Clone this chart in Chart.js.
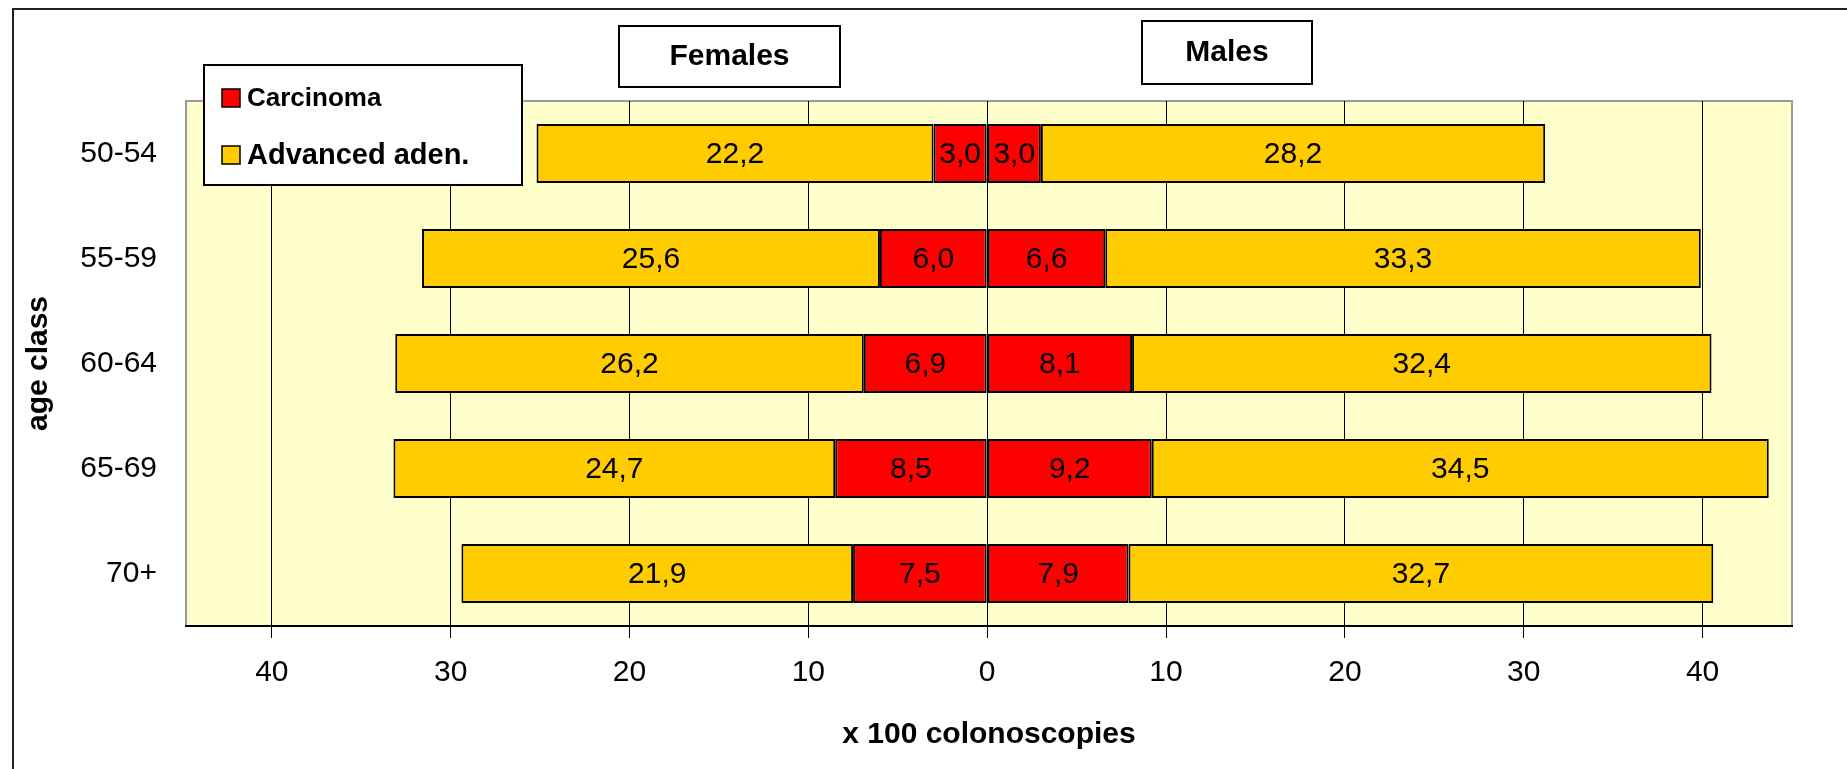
<!DOCTYPE html>
<html>
<head>
<meta charset="utf-8">
<title>Advanced lesions per 100 colonoscopies by age class</title>
<script src="https://cdn.jsdelivr.net/npm/chart.js@4.4.1/dist/chart.umd.min.js"></script>
<style>
  html, body { margin: 0; padding: 0; background: #fff; overflow: hidden; }
  #wrap { width: 1847px; height: 769px; position: relative; }
</style>
</head>
<body>
<div id="wrap"><canvas id="colonChart" width="1847" height="769"></canvas></div>
<script>
// age classes, top to bottom
const ageClasses = ["50-54", "55-59", "60-64", "65-69", "70+"];

// rates x 100 colonoscopies
const femaleCarcinoma = [3.0, 6.0, 6.9, 8.5, 7.5];
const femaleAdvanced = [22.2, 25.6, 26.2, 24.7, 21.9];
const maleCarcinoma = [3.0, 6.6, 8.1, 9.2, 7.9];
const maleAdvanced = [28.2, 33.3, 32.4, 34.5, 32.7];

// axis ticks shown (as absolute values)
const xTickValues = [-40, -30, -20, -10, 0, 10, 20, 30, 40];

const seriesNames = ["Carcinoma", "Advanced aden."];
const carcinomaColor = "#FF0000";
const advancedColor = "#FFCC00";

const FONT = "'Liberation Sans', Arial, sans-serif";

function fmt(v) {
  return Math.abs(v).toFixed(1).replace(".", ",");
}

// plot background + frame of the whole picture
const backdrop = {
  id: "backdrop",
  beforeDraw(chart) {
    const { ctx, chartArea: a, width, height } = chart;
    ctx.save();
    ctx.fillStyle = "#FFFFCC";
    ctx.fillRect(a.left, a.top, a.right - a.left, a.bottom - a.top);
    ctx.strokeStyle = "#9a9a9a";
    ctx.lineWidth = 2;
    ctx.strokeRect(a.left, a.top, a.right - a.left, a.bottom - a.top);
    // outer frame (cut at the right and bottom edge)
    ctx.strokeStyle = "#222";
    ctx.lineWidth = 2;
    ctx.beginPath();
    ctx.moveTo(13, height + 5);
    ctx.lineTo(13, 9);
    ctx.lineTo(width + 5, 9);
    ctx.stroke();
    ctx.restore();
  }
};

// value labels in the middle of every segment
const segmentLabels = {
  id: "segmentLabels",
  afterDatasetsDraw(chart) {
    const { ctx } = chart;
    ctx.save();
    ctx.font = "30px " + FONT;
    ctx.fillStyle = "#000";
    ctx.textAlign = "center";
    ctx.textBaseline = "middle";
    chart.data.datasets.forEach((ds, i) => {
      chart.getDatasetMeta(i).data.forEach((bar, j) => {
        const p = bar.getCenterPoint();
        ctx.fillText(fmt(ds.data[j]), p.x, p.y + 1);
      });
    });
    ctx.restore();
  }
};

function boxedText(ctx, x, y, w, h, text, font) {
  ctx.fillStyle = "#fff";
  ctx.fillRect(x, y, w, h);
  ctx.strokeStyle = "#000";
  ctx.lineWidth = 2;
  ctx.strokeRect(x, y, w, h);
  ctx.font = font;
  ctx.fillStyle = "#000";
  ctx.textAlign = "center";
  ctx.textBaseline = "middle";
  ctx.fillText(text, x + w / 2, y + h / 2);
}

// legend and the Females / Males captions
const annotations = {
  id: "annotations",
  afterDraw(chart) {
    const { ctx } = chart;
    ctx.save();
    // legend box
    ctx.fillStyle = "#fff";
    ctx.fillRect(204, 65, 318, 120);
    ctx.strokeStyle = "#000";
    ctx.lineWidth = 2;
    ctx.strokeRect(204, 65, 318, 120);
    const items = [
      { name: seriesNames[0], color: carcinomaColor, y: 98, font: "bold 26px " + FONT },
      { name: seriesNames[1], color: advancedColor, y: 155, font: "bold 29px " + FONT }
    ];
    items.forEach(it => {
      ctx.fillStyle = it.color;
      ctx.fillRect(222, it.y - 9, 18, 18);
      ctx.strokeStyle = "#000";
      ctx.lineWidth = 1.5;
      ctx.strokeRect(222, it.y - 9, 18, 18);
      ctx.font = it.font;
      ctx.fillStyle = "#000";
      ctx.textAlign = "left";
      ctx.textBaseline = "middle";
      ctx.fillText(it.name, 247, it.y + 1);
    });
    boxedText(ctx, 619, 26, 221, 61, "Females", "bold 30px " + FONT);
    boxedText(ctx, 1142, 21, 170, 63, "Males", "bold 30px " + FONT);
    ctx.restore();
  }
};

const ctx = document.getElementById("colonChart").getContext("2d");
new Chart(ctx, {
  type: "bar",
  data: {
    labels: ageClasses,
    datasets: [
      { label: "Females " + seriesNames[0], data: femaleCarcinoma.map(v => -v), backgroundColor: carcinomaColor },
      { label: "Females " + seriesNames[1], data: femaleAdvanced.map(v => -v), backgroundColor: advancedColor },
      { label: "Males " + seriesNames[0], data: maleCarcinoma, backgroundColor: carcinomaColor },
      { label: "Males " + seriesNames[1], data: maleAdvanced, backgroundColor: advancedColor }
    ]
  },
  options: {
    indexAxis: "y",
    responsive: false,
    devicePixelRatio: 1,
    animation: false,
    layout: { padding: { top: 101, right: 55, left: 0, bottom: 0 } },
    datasets: {
      bar: {
        borderColor: "#000",
        borderWidth: 2,
        borderSkipped: false,
        categoryPercentage: 1,
        barPercentage: 0.56
      }
    },
    plugins: {
      legend: { display: false },
      tooltip: { enabled: false }
    },
    scales: {
      x: {
        stacked: true,
        min: -44.8,
        max: 45,
        afterBuildTicks: scale => {
          scale.ticks = xTickValues.map(v => ({ value: v }));
        },
        afterFit: scale => { scale.height = 143; },
        grid: {
          color: "#000",
          lineWidth: 1,
          tickLength: 12,
          drawOnChartArea: true
        },
        border: { color: "#000", width: 2 },
        ticks: {
          autoSkip: false,
          padding: 17,
          color: "#000",
          font: { family: FONT, size: 30 },
          callback: v => String(Math.abs(v))
        },
        title: {
          display: true,
          text: "x 100 colonoscopies",
          color: "#000",
          font: { family: FONT, size: 30, weight: "bold" },
          padding: { top: 0, bottom: 16 }
        }
      },
      y: {
        stacked: true,
        afterFit: scale => { scale.width = 186; },
        grid: { display: false, drawTicks: false },
        border: { display: false },
        ticks: {
          padding: 29,
          color: "#000",
          font: { family: FONT, size: 30 }
        },
        title: {
          display: true,
          text: "age class",
          color: "#000",
          font: { family: FONT, size: 30, weight: "bold" },
          padding: { top: 21, bottom: 0 }
        }
      }
    }
  },
  plugins: [backdrop, segmentLabels, annotations]
});
</script>
</body>
</html>
